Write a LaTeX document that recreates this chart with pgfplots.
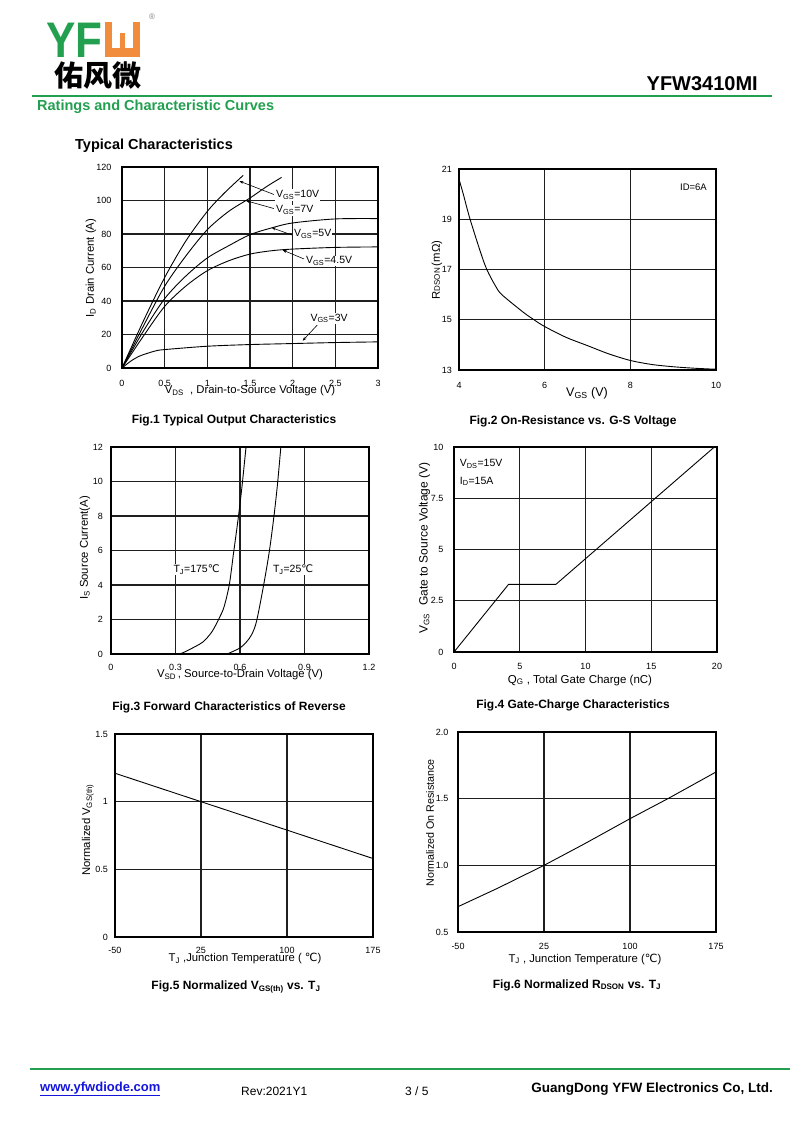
\documentclass[border=0pt]{standalone}
\usepackage{fontspec}
\setmainfont{Liberation Sans}
\newfontfamily\dv{DejaVu Sans}
\newfontfamily\cjk{Noto Sans CJK SC}
\newfontfamily\logofont[FakeStretch=0.88]{Liberation Sans}
\usepackage{pgfplots}
\pgfplotsset{compat=1.18}
\usetikzlibrary{arrows.meta}
\definecolor{yfgreen}{RGB}{34,160,80}
\definecolor{yforange}{RGB}{240,140,60}
\definecolor{linkblue}{RGB}{20,20,220}
\newcommand{\sub}[1]{\textsubscript{#1}}
\newcommand{\degC}{{\dv ℃}}
\pgfplotsset{ds/.style={
  scale only axis, anchor=south west,
  axis line style={line width=1.5pt},
  grid=major, major grid style={line width=1.4pt,black!88},
  major tick length=0pt,
  tick label style={font=\fontsize{9}{10}\selectfont},
  label style={font=\fontsize{11.3}{13}\selectfont},
  xlabel style={anchor=center}, ylabel style={anchor=center}
}}
\tikzset{crv/.style={black,line width=0.9pt},
  ann/.style={-{Stealth[length=4pt,width=3pt]},line width=0.6pt},
  lbl/.style={fill=white,inner sep=1pt,font=\fontsize{10.5}{12}\selectfont}}
\begin{document}
\begin{tikzpicture}
\path[use as bounding box, fill=white] (0pt,0pt) rectangle (800pt,-1130pt);
% ---------- header ----------
\node[anchor=base west, inner sep=0, text=yfgreen, font=\logofont\bfseries\fontsize{50}{50}\selectfont] at (46pt,-57pt) {YF};
\fill[yforange] (105pt,-22pt) rectangle (140pt,-57pt);
\fill[white] (112pt,-22pt) rectangle (133pt,-48pt);
\fill[yforange] (120pt,-33pt) rectangle (125pt,-48pt);
\node[font=\fontsize{8}{8}\selectfont, text=gray] at (152pt,-17pt) {®};
\node[anchor=west, inner sep=0, font=\cjk\bfseries\fontsize{29}{29}\selectfont] at (54pt,-76pt) {佑风微};
\node[anchor=base east, inner sep=0, font=\bfseries\fontsize{20}{21}\selectfont] at (758pt,-90pt) {YFW3410MI};
\draw[yfgreen, line width=2pt] (32pt,-96pt) -- (772pt,-96pt);
\node[anchor=west, inner sep=0, text=yfgreen, font=\bfseries\fontsize{14.5}{16}\selectfont] at (37pt,-107pt) {Ratings and Characteristic Curves};
\node[anchor=west, inner sep=0, font=\bfseries\fontsize{14.5}{16}\selectfont] at (75pt,-146pt) {Typical Characteristics};
% ---------- footer ----------
\draw[yfgreen, line width=2pt] (30pt,-1069pt) -- (790pt,-1069pt);
\node[anchor=west, inner sep=0, text=linkblue, font=\bfseries\fontsize{13}{14}\selectfont] at (40pt,-1089pt) {\underline{www.yfwdiode.com}};
\node[anchor=west, inner sep=0, font=\fontsize{12}{13}\selectfont] at (241pt,-1091pt) {Rev:2021Y1};
\node[anchor=west, inner sep=0, font=\fontsize{12}{13}\selectfont] at (405pt,-1091pt) {3 / 5};
\node[anchor=east, inner sep=0, font=\bfseries\fontsize{13.5}{15}\selectfont] at (773pt,-1089pt) {GuangDong YFW Electronics Co, Ltd.};
% ---------- captions ----------
\begin{scope}[every node/.style={font=\bfseries\fontsize{12}{14}\selectfont, inner sep=0}]
\node at (234pt,-420pt) {Fig.1 Typical Output Characteristics};
\node at (573pt,-421pt) {Fig.2 On-Resistance vs. G-S Voltage};
\node at (229pt,-707pt) {Fig.3 Forward Characteristics of Reverse};
\node at (573pt,-705pt) {Fig.4 Gate-Charge Characteristics};
\node at (236pt,-987pt) {Fig.5 Normalized V\sub{GS(th)} vs. T\sub{J}};
\node at (577pt,-985pt) {Fig.6 Normalized R\sub{DSON} vs. T\sub{J}};
\end{scope}
% ---------- Fig.1 ----------
\begin{axis}[ds, at={(122pt,-368pt)}, width=256pt, height=201pt,
  xmin=0, xmax=3, ymin=0, ymax=120,
  xtick={0,0.5,1,1.5,2,2.5,3}, xticklabels={0,0.5,1,1.5,2,2.5,3},
  ytick={0,20,40,60,80,100,120}, yticklabels={0,20,40,60,80,100,120},
  xticklabel style={yshift=-9pt}, yticklabel style={xshift=-7pt},
  xlabel={V\sub{DS}\ \ , Drain-to-Source Voltage (V)},
  ylabel={I\sub{D} Drain Current (A)},
  xlabel style={at={(axis description cs:0.5,-0.114)}},
  ylabel style={at={(axis description cs:-0.121,0.4975)}}]
\addplot[crv, smooth] coordinates {(0,0) (0.25,28) (0.5,54) (0.75,76) (1,93.5) (1.2,104.5) (1.42,115)};
\addplot[crv, smooth] coordinates {(0,0) (0.25,25) (0.5,48.8) (0.75,67) (1,82.6) (1.25,93.5) (1.5,101.5) (1.7,108.5) (1.87,113.8)};
\addplot[crv, smooth] coordinates {(0,0) (0.25,22) (0.5,41.4) (0.75,55) (1,65.7) (1.25,73) (1.5,79.6) (1.75,83.6) (2,86.6) (2.5,89) (3,89.2)};
\addplot[crv, smooth] coordinates {(0,0) (0.25,19) (0.5,36.8) (0.75,49) (1,58.1) (1.25,64) (1.5,68) (1.75,70) (2,71) (2.5,72) (3,72.3)};
\addplot[crv, smooth] coordinates {(0,0) (0.1,4) (0.2,7) (0.3,8.8) (0.4,10.3) (0.5,11) (1,13) (1.5,14) (2,14.6) (2.5,15.2) (3,15.6)};
\draw[ann] (axis cs:1.78,103.6) -- (axis cs:1.375,111.6);
\draw[ann] (axis cs:1.78,95.2) -- (axis cs:1.453,99.9);
\draw[ann] (axis cs:1.99,79.4) -- (axis cs:1.754,83.8);
\draw[ann] (axis cs:2.133,65.1) -- (axis cs:1.883,70.4);
\draw[ann] (axis cs:2.289,25.7) -- (axis cs:2.117,16.3);
\node[lbl, anchor=west] at (axis cs:1.793,103.3) {V\sub{GS}=10V};
\node[lbl, anchor=west] at (axis cs:1.793,94.3) {V\sub{GS}=7V};
\node[lbl, anchor=west] at (axis cs:2.004,80) {V\sub{GS}=5V};
\node[lbl, anchor=west] at (axis cs:2.145,63.9) {V\sub{GS}=4.5V};
\node[lbl, anchor=west] at (axis cs:2.195,29.7) {V\sub{GS}=3V};
\end{axis}
% ---------- Fig.2 ----------
\begin{axis}[ds, at={(459pt,-370pt)}, width=257pt, height=201pt,
  xmin=4, xmax=10, ymin=13, ymax=21,
  xtick={4,6,8,10}, xticklabels={4,6,8,10},
  ytick={13,15,17,19,21}, yticklabels={13,15,17,19,21},
  xticklabel style={yshift=-9pt}, yticklabel style={xshift=-3.5pt},
  xlabel={V\sub{GS} (V)},
  ylabel={R{\fontsize{8}{8}\selectfont DSON}\,(mΩ)},
  xlabel style={at={(axis description cs:0.498,-0.114)}, font=\fontsize{12.5}{14}\selectfont},
  ylabel style={at={(axis description cs:-0.0856,0.4975)}}]
\addplot[crv, smooth] coordinates {(4,20.6) (4.1,20.0) (4.25,19.05) (4.5,17.7) (4.65,17.0) (4.85,16.35) (5,16.0) (5.5,15.3) (5.75,15.0) (6,14.73) (6.5,14.3) (7,13.97) (7.5,13.64) (8,13.38) (8.5,13.22) (9,13.13) (9.5,13.07) (10,13.03)};
\node[anchor=east, inner sep=0, font=\fontsize{9.5}{11}\selectfont] at (axis cs:9.79,20.28) {ID=6A};
\end{axis}
% ---------- Fig.3 ----------
\begin{axis}[ds, at={(111pt,-654pt)}, width=258pt, height=207pt,
  xmin=0, xmax=1.2, ymin=0, ymax=12,
  xtick={0,0.3,0.6,0.9,1.2}, xticklabels={0,0.3,0.6,0.9,1.2},
  ytick={0,2,4,6,8,10,12}, yticklabels={0,2,4,6,8,10,12},
  xticklabel style={yshift=-7pt}, yticklabel style={xshift=-4.7pt},
  xlabel={V\sub{SD}\,, Source-to-Drain Voltage (V)},
  ylabel={I\sub{S} Source Current(A)},
  xlabel style={at={(axis description cs:0.5,-0.101)}},
  ylabel style={at={(axis description cs:-0.101,0.512)}}]
\addplot[crv, smooth] coordinates {(0.3,0) (0.33,0.05) (0.39,0.42) (0.43,0.72) (0.47,1.3) (0.502,2.05) (0.525,2.7) (0.55,4.0) (0.569,5.76) (0.592,7.9) (0.61,9.8) (0.628,12)};
\addplot[crv, smooth] coordinates {(0.54,0) (0.6,0.35) (0.63,0.7) (0.654,1.12) (0.677,1.9) (0.71,4.0) (0.737,6.0) (0.758,8.0) (0.774,9.8) (0.79,12)};
\node[lbl] at (axis cs:0.398,4.9) {T\sub{J}=175\degC};
\node[lbl] at (axis cs:0.847,4.9) {T\sub{J}=25\degC};
\end{axis}
% ---------- Fig.4 ----------
\begin{axis}[ds, at={(454pt,-652pt)}, width=263pt, height=205pt,
  xmin=0, xmax=20, ymin=0, ymax=10,
  xtick={0,5,10,15,20}, xticklabels={0,5,10,15,20},
  ytick={0,2.5,5,7.5,10}, yticklabels={0,2.5,5,7.5,10},
  xticklabel style={yshift=-7.5pt}, yticklabel style={xshift=-7pt},
  xlabel={Q\sub{G} , Total Gate Charge (nC)},
  ylabel={V\sub{GS}\hspace{8pt}Gate to Source Voltage (V)},
  xlabel style={at={(axis description cs:0.479,-0.137)}, font=\fontsize{11.5}{13}\selectfont},
  ylabel style={at={(axis description cs:-0.112,0.507)}, font=\fontsize{12}{13}\selectfont}]
\addplot[crv] coordinates {(0,0) (4.15,3.3) (7.75,3.3) (19.8,10)};
\node[anchor=west, inner sep=0, font=\fontsize{10.5}{12}\selectfont] at (axis cs:0.43,9.16) {V\sub{DS}=15V};
\node[anchor=west, inner sep=0, font=\fontsize{10.5}{12}\selectfont] at (axis cs:0.43,8.33) {I\sub{D}=15A};
\end{axis}
% ---------- Fig.5 ----------
\begin{axis}[ds, at={(115pt,-937pt)}, width=258pt, height=203pt,
  xmin=-50, xmax=175, ymin=0, ymax=1.5,
  xtick={-50,25,100,175}, xticklabels={-50,25,100,175},
  ytick={0,0.5,1,1.5}, yticklabels={0,0.5,1,1.5},
  xticklabel style={yshift=-7pt}, yticklabel style={xshift=-3.7pt},
  xlabel={T\sub{J} ,Junction Temperature ( \degC)},
  ylabel={Normalized V\sub{GS(th)}},
  xlabel style={at={(axis description cs:0.504,-0.108)}},
  ylabel style={at={(axis description cs:-0.105,0.527)}}]
\addplot[crv] coordinates {(-50,1.21) (0,1.07) (25,1.0) (100,0.79) (175,0.58)};
\end{axis}
% ---------- Fig.6 ----------
\begin{axis}[ds, at={(458pt,-932pt)}, width=258pt, height=200pt,
  xmin=-50, xmax=175, ymin=0.5, ymax=2,
  xtick={-50,25,100,175}, xticklabels={-50,25,100,175},
  ytick={0.5,1,1.5,2}, yticklabels={0.5,1.0,1.5,2.0},
  xticklabel style={yshift=-8pt}, yticklabel style={xshift=-6pt},
  xlabel={T\sub{J} , Junction Temperature (\degC)},
  ylabel={Normalized On Resistance},
  xlabel style={at={(axis description cs:0.492,-0.135)}},
  ylabel style={at={(axis description cs:-0.108,0.545)}, font=\fontsize{10.7}{12}\selectfont}]
\addplot[crv] coordinates {(-50,0.69) (-15,0.83) (25,1.0) (60,1.16) (100,1.35) (133,1.5) (175,1.70)};
\end{axis}
\end{tikzpicture}
\end{document}
